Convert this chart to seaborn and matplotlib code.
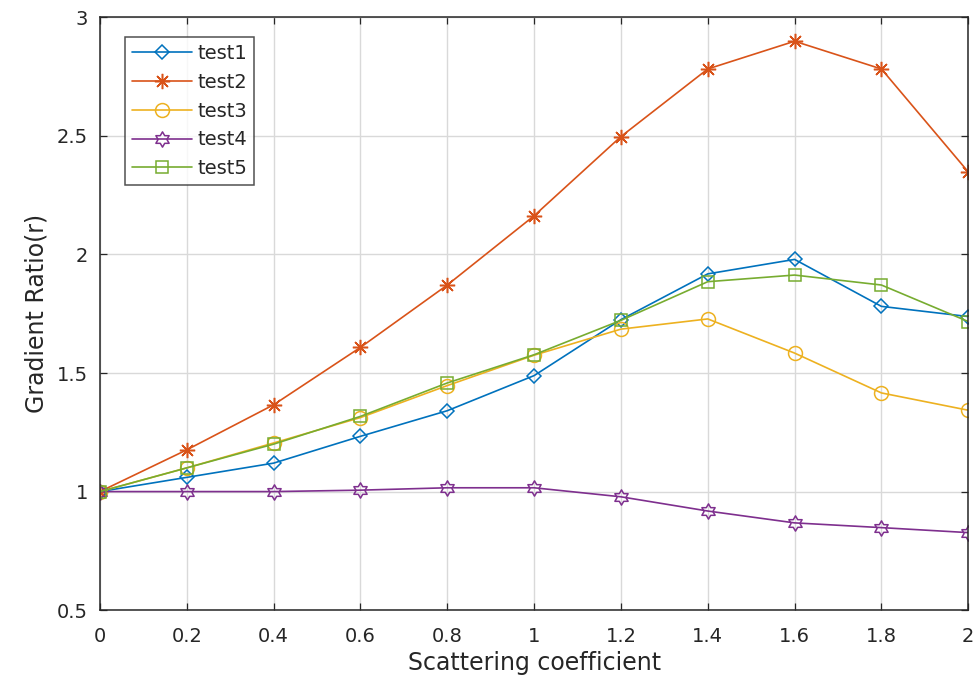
import numpy as np
import pandas as pd
import matplotlib
matplotlib.use("Agg")
import matplotlib.pyplot as plt
from matplotlib.path import Path
import seaborn as sns

# Scattering coefficient values (x axis)
scattering = [0.0, 0.2, 0.4, 0.6, 0.8, 1.0, 1.2, 1.4, 1.6, 1.8, 2.0]

# Gradient ratio for each test
test1 = [1.00, 1.06, 1.12, 1.233, 1.341, 1.489, 1.725, 1.918, 1.979, 1.781, 1.738]
test2 = [1.00, 1.176, 1.366, 1.608, 1.871, 2.163, 2.497, 2.782, 2.899, 2.782, 2.348]
test3 = [1.00, 1.10, 1.205, 1.312, 1.447, 1.575, 1.685, 1.728, 1.584, 1.416, 1.343]
test4 = [1.00, 1.00, 1.00, 1.006, 1.016, 1.016, 0.978, 0.918, 0.868, 0.848, 0.827]
test5 = [1.00, 1.10, 1.20, 1.317, 1.458, 1.577, 1.722, 1.885, 1.913, 1.871, 1.717]

series_names = ["test1", "test2", "test3", "test4", "test5"]
series_values = [test1, test2, test3, test4, test5]

x_ticks = [0, 0.2, 0.4, 0.6, 0.8, 1, 1.2, 1.4, 1.6, 1.8, 2]
x_tick_labels = ["0", "0.2", "0.4", "0.6", "0.8", "1", "1.2", "1.4", "1.6", "1.8", "2"]
y_ticks = [0.5, 1, 1.5, 2, 2.5, 3]
y_tick_labels = ["0.5", "1", "1.5", "2", "2.5", "3"]

sns.set_theme(style="white")
plt.rcParams["font.family"] = ["DejaVu Sans"]

# Six-pointed star (hexagram) marker
hexagram = Path.unit_regular_star(6, innerCircle=0.5774)

colors = ["#0072BD", "#D95319", "#EDB120", "#7E2F8E", "#77AC30"]
markers = ["D", (8, 2, 0), "o", hexagram, "s"]
msizes = [7.6, 11, 10, 11, 8.3]

fig = plt.figure(figsize=(9.8, 6.91), dpi=100)
ax = fig.add_axes([0.102, 0.117, 0.886, 0.858])

frames = []
for name, vals in zip(series_names, series_values):
    frames.append(pd.DataFrame({"x": scattering, "y": vals, "series": name}))
df = pd.concat(frames, ignore_index=True)

for name, c, m, ms in zip(series_names, colors, markers, msizes):
    sub = df[df["series"] == name]
    sns.lineplot(data=sub, x="x", y="y", ax=ax, color=c, marker=m,
                 markersize=ms, markerfacecolor="none", markeredgecolor=c,
                 markeredgewidth=1.1, linewidth=1.2, label=name)

ax.set_xlim(0, 2)
ax.set_ylim(0.5, 3)
ax.set_xticks(x_ticks)
ax.set_xticklabels(x_tick_labels)
ax.set_yticks(y_ticks)
ax.set_yticklabels(y_tick_labels)
ax.grid(True, color="#d9d9d9", linewidth=1.0)
ax.set_axisbelow(True)
for s in ax.spines.values():
    s.set_visible(True)
    s.set_color("#262626")
    s.set_linewidth(1.1)
ax.tick_params(direction="in", length=5, width=0.9, colors="#262626",
               top=True, right=True, bottom=True, left=True, labelsize=14)
ax.tick_params(axis="x", pad=12)
ax.tick_params(axis="y", pad=8.5)
ax.set_xlabel("Scattering coefficient", fontsize=17, color="#262626", labelpad=4)
ax.set_ylabel("Gradient Ratio(r)", fontsize=17, color="#262626", labelpad=6)

leg = ax.legend(loc="upper left", bbox_to_anchor=(0.029, 0.966), fontsize=14,
                frameon=True, fancybox=False, edgecolor="#262626",
                borderpad=0.35, labelspacing=0.5, handlelength=3.1,
                handletextpad=0.25, borderaxespad=0)
leg.get_frame().set_linewidth(1.1)

fig.savefig("out.png", dpi=100)
